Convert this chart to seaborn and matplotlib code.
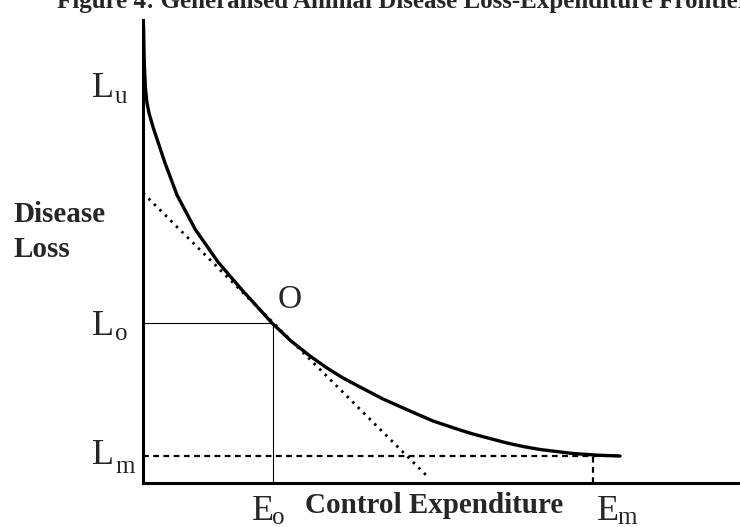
import matplotlib
matplotlib.use("Agg")
import matplotlib.pyplot as plt
import seaborn as sns
import pandas as pd

# ---- data (origin at the axes corner) ----
curve_x = [0.5, 1, 1.5, 2.5, 4, 6, 10, 15, 22, 34, 52, 75, 99, 110, 129, 148, 167, 184, 200,
           217, 240, 267, 290, 317, 330, 345, 364, 380, 397, 430, 455, 477]
curve_y = [458, 432, 414, 394, 380, 370, 356, 341, 320, 288, 254, 221, 193, 181, 160, 142, 127,
           115, 105, 96, 84, 72, 62, 53, 49, 45, 40, 36.5, 33.5, 29.5, 27.8, 27]
tangent_x = [0, 285]
tangent_y = [290, 6]
Lo_x = [0, 130]
Lo_y = [160, 160]
Eo_x = [130, 130]
Eo_y = [0, 160]
Lm_x = [0, 477]
Lm_y = [27, 27]
Em_x = [450, 450]
Em_y = [0, 27]

title = "Figure 4: Generalised Animal Disease Loss-Expenditure Frontier"
xlabel = "Control Expenditure"
ylabel_lines = ["Disease", "Loss"]

sns.set_theme(style="white")
plt.rcParams["font.family"] = ["Liberation Serif", "DejaVu Serif"]

W, H = 740, 527
fig = plt.figure(figsize=(W / 100, H / 100), dpi=100)
ax = fig.add_axes([143 / W, 44 / H, (W - 143) / W, 463 / H])
ax.set_xlim(0, 597)
ax.set_ylim(0, 463)

df = pd.DataFrame({"x": curve_x, "y": curve_y})
sns.lineplot(data=df, x="x", y="y", ax=ax, color="black", lw=2.4, sort=False, estimator=None)
sns.lineplot(x=tangent_x, y=tangent_y, ax=ax, color="black", lw=2.0, dashes=False,
             linestyle=(0, (0.9, 1.9)))
sns.lineplot(x=Lo_x, y=Lo_y, ax=ax, color="black", lw=0.8)
sns.lineplot(x=Eo_x, y=Eo_y, ax=ax, color="black", lw=0.8, sort=False, estimator=None)
sns.lineplot(x=Lm_x, y=Lm_y, ax=ax, color="black", lw=1.6, linestyle=(0, (2.6, 2.0)))
sns.lineplot(x=Em_x, y=Em_y, ax=ax, color="black", lw=1.6, linestyle=(0, (2.6, 2.0)),
             sort=False, estimator=None)

for s in ["top", "right"]:
    ax.spines[s].set_visible(False)
for s in ["left", "bottom"]:
    ax.spines[s].set_linewidth(2.2)
    ax.spines[s].set_color("black")
ax.set_xticks([])
ax.set_yticks([])
ax.set_xlabel("")
ax.set_ylabel("")

big, sub = 26, 18
def lab(x, y, main, s, sx, sy):
    ax.text(x, y, main, fontsize=big, ha="left", va="baseline", clip_on=False)
    ax.text(sx, sy, s, fontsize=sub, ha="left", va="baseline", clip_on=False)

lab(-51, 386, "L", "u", -28, 380)
lab(-51, 148, "L", "o", -28, 143)
lab(-51, 19, "L", "m", -28, 10)
lab(109, -37, "E", "o", 129, -41)
lab(454, -37, "E", "m", 474, -41)
ax.text(135, 175, "O", fontsize=24, ha="left", va="baseline", clip_on=False)

ax.text(162, -30, xlabel, fontsize=21, fontweight="bold", ha="left", va="baseline", clip_on=False)
ax.text(-130, 261, ylabel_lines[0], fontsize=21, fontweight="bold", ha="left", va="baseline", clip_on=False)
ax.text(-130, 226, ylabel_lines[1], fontsize=21, fontweight="bold", ha="left", va="baseline", clip_on=False)

fig.text(57 / W, 1 - 8 / H, title, fontsize=18, fontweight="bold", ha="left", va="baseline")

fig.savefig("out.png", dpi=100)
